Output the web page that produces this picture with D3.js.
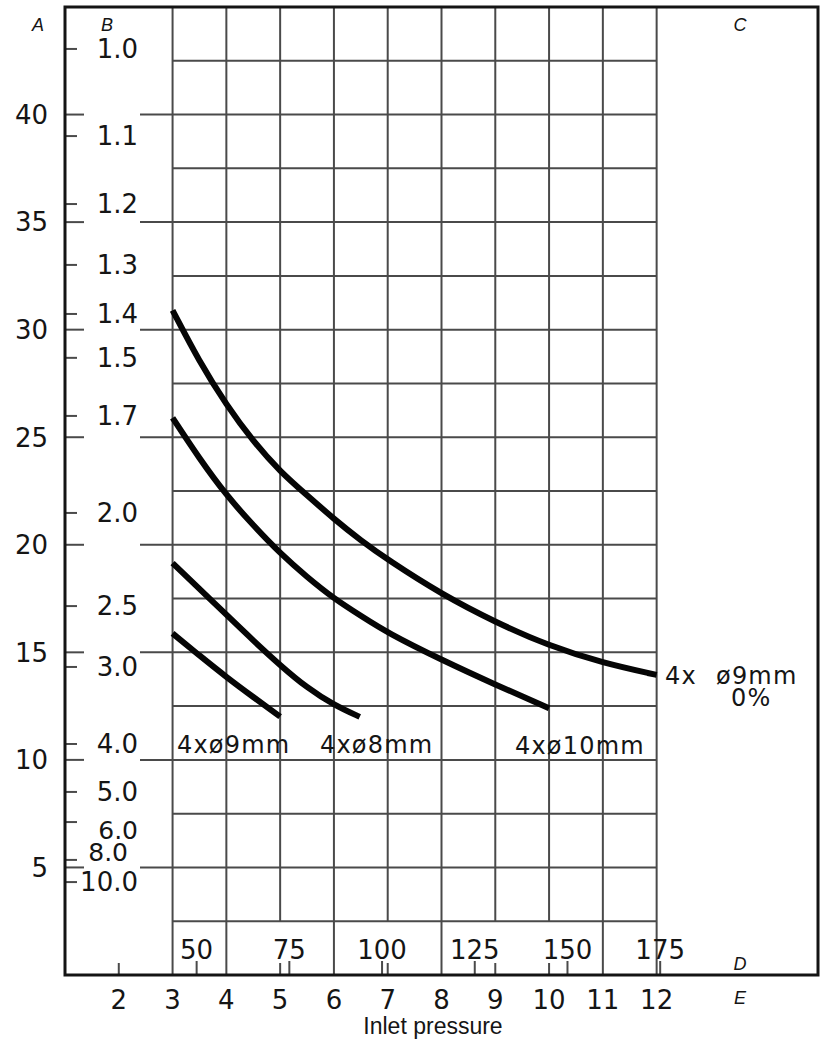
<!DOCTYPE html>
<html><head><meta charset="utf-8">
<script src="https://cdn.jsdelivr.net/npm/d3@7"></script>
<style>
html,body{margin:0;padding:0;background:#fff;}
svg{display:block;}
</style></head>
<body>
<svg id="chart" width="828" height="1043"></svg>
<script>
// ---------- data ----------
const aTicks = [5, 10, 15, 20, 25, 30, 35, 40];             // left scale A (major)
const aGrid = [2.5, 7.5, 12.5, 17.5, 22.5, 27.5, 32.5, 37.5, 42.5]; // minor grid
const bTickLabels = ["1.0","1.1","1.2","1.3","1.4","1.5","1.7","2.0","2.5","3.0","4.0","5.0","6.0","8.0","10.0"];
const bTickA = [43.05, 39.0, 35.84, 33.01, 30.73, 28.69, 25.99, 21.48, 17.15, 14.32, 10.74, 8.51, 7.11, 5.35, 4.32];
const eTicks = [2, 3, 4, 5, 6, 7, 8, 9, 10, 11, 12];       // bottom scale E (bar)
const eGridFull = [3, 4, 6, 8, 11, 12];
const eGridShort = [5, 7, 9, 10];
const dTicks = [50, 75, 100, 125, 150, 175];                // scale D (psi)
const psiPerBar = 14.5038;

const curveNames = ["4x ø9mm 0%", "4xø10mm", "4xø8mm", "4xø9mm"];
const curve0E = [3.0, 3.5, 4.0, 4.5, 5.0, 5.5, 6.0, 6.5, 7.0, 8.0, 9.0, 10.0, 11.0, 12.0];
const curve0A = [30.9, 28.5, 26.5, 24.8, 23.4, 22.3, 21.2, 20.2, 19.3, 17.7, 16.4, 15.3, 14.5, 13.95];
const curve1E = [3.0, 3.5, 4.0, 4.5, 5.0, 5.5, 6.0, 6.5, 7.0, 8.0, 9.0, 10.0];
const curve1A = [25.9, 24.0, 22.3, 20.9, 19.6, 18.5, 17.5, 16.7, 15.9, 14.65, 13.5, 12.4];
const curve2E = [3.0, 3.5, 4.0, 4.5, 5.0, 5.5, 6.0, 6.48];
const curve2A = [19.15, 17.95, 16.75, 15.55, 14.4, 13.35, 12.55, 12.0];
const curve3E = [3.0, 3.5, 4.0, 4.5, 5.0];
const curve3A = [15.88, 14.85, 13.85, 12.92, 12.01];

const cornerLetters = ["A", "B", "C", "D", "E"];
const xTitle = "Inlet pressure";

// ---------- layout ----------
const svg = d3.select("#chart");
const x = d3.scaleLinear().domain([1, 15]).range([65, 818]);
const y = d3.scaleLinear().domain([0, 45]).range([975, 7]);
const gridCol = "#4a4a4a";
const numFont = "'DejaVu Sans', sans-serif";
const txtCol = "#151515";
const gridLeft = x(3), gridRight = x(12), gridBottom = y(2.5);

// vertical grid lines
svg.append("g").selectAll("line").data(eGridFull).join("line")
  .attr("x1", d => x(d)).attr("x2", d => x(d))
  .attr("y1", y(45)).attr("y2", y(0))
  .attr("stroke", gridCol).attr("stroke-width", 2);
svg.append("g").selectAll("line").data(eGridShort).join("line")
  .attr("x1", d => x(d)).attr("x2", d => x(d))
  .attr("y1", y(45)).attr("y2", gridBottom)
  .attr("stroke", gridCol).attr("stroke-width", 2);
// bottom short ticks for E
svg.append("g").selectAll("line").data(eTicks.filter(d => !eGridFull.includes(d))).join("line")
  .attr("x1", d => x(d)).attr("x2", d => x(d))
  .attr("y1", y(0) - 12).attr("y2", y(0))
  .attr("stroke", gridCol).attr("stroke-width", 2);

// horizontal grid lines
svg.append("g").selectAll("line").data(aGrid).join("line")
  .attr("x1", gridLeft).attr("x2", gridRight)
  .attr("y1", d => y(d)).attr("y2", d => y(d))
  .attr("stroke", gridCol).attr("stroke-width", 2);
svg.append("g").selectAll("line").data(aTicks).join("line")
  .attr("x1", 140).attr("x2", gridRight)
  .attr("y1", d => y(d)).attr("y2", d => y(d))
  .attr("stroke", gridCol).attr("stroke-width", 2);
svg.append("g").selectAll("line").data(aTicks).join("line")
  .attr("x1", x(1)).attr("x2", 84)
  .attr("y1", d => y(d)).attr("y2", d => y(d))
  .attr("stroke", gridCol).attr("stroke-width", 2);

// B ticks
svg.append("g").selectAll("line").data(bTickA).join("line")
  .attr("x1", x(1)).attr("x2", 77)
  .attr("y1", d => y(d)).attr("y2", d => y(d))
  .attr("stroke", gridCol).attr("stroke-width", 2);

// D ticks
svg.append("g").selectAll("line").data(dTicks).join("line")
  .attr("x1", d => x(d / psiPerBar)).attr("x2", d => x(d / psiPerBar))
  .attr("y1", y(0) - 14).attr("y2", y(0))
  .attr("stroke", gridCol).attr("stroke-width", 2);

// frame
svg.append("rect").attr("x", x(1)).attr("y", y(45))
  .attr("width", x(15) - x(1)).attr("height", y(0) - y(45))
  .attr("fill", "none").attr("stroke", "#141414").attr("stroke-width", 3);

// A labels
svg.append("g").selectAll("text").data(aTicks).join("text")
  .attr("x", 48).attr("y", d => y(d)).attr("dy", "0.36em")
  .attr("text-anchor", "end").attr("font-family", numFont).attr("font-size", 26)
  .attr("fill", txtCol).text(d => d);

// B labels (small nudges where labels crowd)
const bNudge = {"6.0": [0, 8], "8.0": [-10, -8]};
svg.append("g").selectAll("text").data(bTickLabels).join("text")
  .attr("x", d => 138 + (bNudge[d] ? bNudge[d][0] : 0))
  .attr("y", (d, i) => y(bTickA[i]) + (bNudge[d] ? bNudge[d][1] : 0))
  .attr("dy", "0.36em")
  .attr("text-anchor", "end").attr("font-family", numFont)
  .attr("font-size", d => bNudge[d] ? 25 : 26)
  .attr("fill", txtCol).text(d => d);

// E labels
svg.append("g").selectAll("text").data(eTicks).join("text")
  .attr("x", d => x(d)).attr("y", 1009)
  .attr("text-anchor", "middle").attr("font-family", numFont).attr("font-size", 26)
  .attr("fill", txtCol).text(d => d);

// D labels
svg.append("g").selectAll("text").data(dTicks).join("text")
  .attr("x", d => x(d / psiPerBar)).attr("y", 959)
  .attr("text-anchor", "middle").attr("font-family", numFont).attr("font-size", 26)
  .attr("fill", txtCol).text(d => d);

// x title
svg.append("text").attr("x", 433).attr("y", 1034).attr("text-anchor", "middle")
  .attr("font-family", "'Liberation Sans', Arial, sans-serif").attr("font-size", 23)
  .attr("fill", txtCol).text(xTitle);

// corner letters
const cornerPos = [[38, 31], [107, 31], [740, 31], [740, 970], [740, 1004]];
svg.append("g").selectAll("text").data(cornerLetters).join("text")
  .attr("x", (d, i) => cornerPos[i][0]).attr("y", (d, i) => cornerPos[i][1])
  .attr("text-anchor", "middle").attr("font-family", "'Liberation Sans', Arial, sans-serif")
  .attr("font-style", "italic").attr("font-size", 18).attr("fill", txtCol).text(d => d);

// curves
const curves = [
  d3.zip(curve0E, curve0A), d3.zip(curve1E, curve1A),
  d3.zip(curve2E, curve2A), d3.zip(curve3E, curve3A)
];
const line = d3.line().x(d => x(d[0])).y(d => y(d[1])).curve(d3.curveBasis);
svg.append("g").selectAll("path").data(curves).join("path")
  .attr("d", line).attr("fill", "none").attr("stroke", "#050505")
  .attr("stroke-width", 6).attr("stroke-linecap", "butt");

// curve labels
const lblStyle = sel => sel.attr("font-family", numFont).attr("font-size", 24)
  .attr("letter-spacing", 1.2).attr("fill", txtCol);
svg.append("text").attr("x", 177).attr("y", 753).call(lblStyle).text(curveNames[3]);
svg.append("text").attr("x", 320).attr("y", 753).call(lblStyle).text(curveNames[2]);
svg.append("text").attr("x", 515).attr("y", 754).call(lblStyle).text(curveNames[1]);
const topParts = curveNames[0].split(" ");
svg.append("text").attr("x", 665).attr("y", 684).call(lblStyle).text(topParts[0]);
svg.append("text").attr("x", 716).attr("y", 684).call(lblStyle).text(topParts[1]);
svg.append("text").attr("x", 731).attr("y", 706).call(lblStyle).text(topParts[2]);
</script>
</body></html>
